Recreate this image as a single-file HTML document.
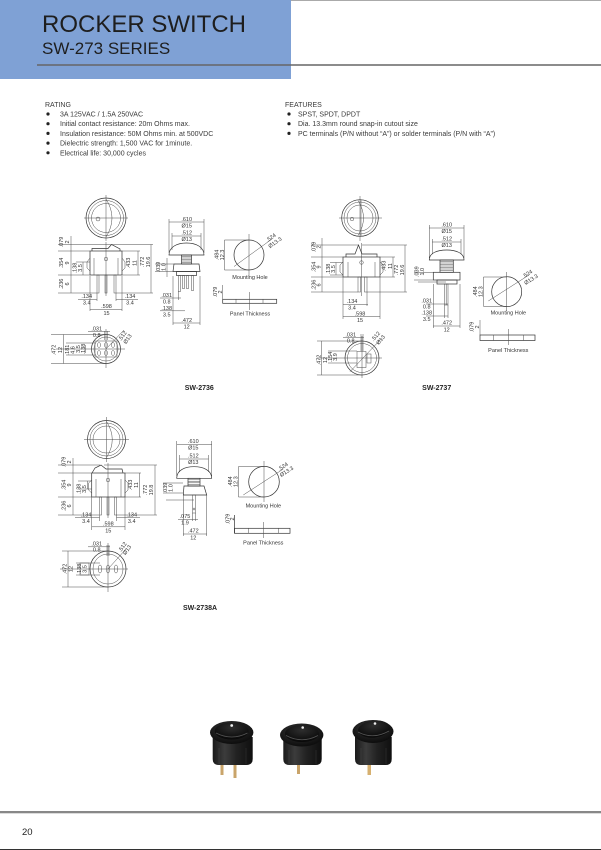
<!DOCTYPE html>
<html><head><meta charset="utf-8">
<style>
html,body{margin:0;padding:0;background:#fff;}
body{width:601px;height:850px;position:relative;overflow:hidden;font-family:"Liberation Sans",Arial,sans-serif;}
svg{position:absolute;left:0;top:0;}
.d{fill:none;stroke:#4a4a4a;stroke-width:0.5}
.k{fill:none;stroke:#333;stroke-width:0.7}
.t{font-family:"Liberation Sans",Arial,sans-serif;font-size:5.5px;fill:#333;text-anchor:middle}
.s{font-family:"Liberation Sans",Arial,sans-serif;font-size:7px;fill:#3a3a3a}
.b{font-family:"Liberation Sans",Arial,sans-serif;font-size:7px;font-weight:bold;fill:#222;text-anchor:middle}
</style></head><body>
<svg width="601" height="850" viewBox="0 0 601 850" xmlns="http://www.w3.org/2000/svg">
<defs>
<linearGradient id="bg" x1="0" y1="0" x2="1" y2="0">
<stop offset="0" stop-color="#1a1a1a"/><stop offset="0.3" stop-color="#3c3c3c"/><stop offset="0.6" stop-color="#222"/><stop offset="1" stop-color="#0f0f0f"/>
</linearGradient>
<radialGradient id="cg" cx="0.45" cy="0.35" r="0.7">
<stop offset="0" stop-color="#3a3a3a"/><stop offset="0.6" stop-color="#1b1b1b"/><stop offset="1" stop-color="#0a0a0a"/>
</radialGradient>
<radialGradient id="rg" cx="0.5" cy="0.3" r="0.7">
<stop offset="0" stop-color="#2e2e2e"/><stop offset="1" stop-color="#080808"/>
</radialGradient>
</defs>

<!-- HEADER -->
<rect x="0" y="0" width="291" height="79" fill="#7fa1d5"/>
<line x1="291" y1="0.5" x2="601" y2="0.5" stroke="#aaa" stroke-width="1"/>
<line x1="37" y1="65" x2="601" y2="65" stroke="#666" stroke-width="1.6"/>
<text x="42" y="32" font-size="24" fill="#1e1e1e" font-family="Liberation Sans, Arial, sans-serif">ROCKER SWITCH</text>
<text x="42" y="54" font-size="17" fill="#1e1e1e" font-family="Liberation Sans, Arial, sans-serif">SW-273 SERIES</text>

<!-- RATING / FEATURES -->
<text class="s" x="45" y="107">RATING</text>
<g fill="#222">
<circle cx="48" cy="114" r="1.6"/><circle cx="48" cy="123.7" r="1.6"/><circle cx="48" cy="133.4" r="1.6"/><circle cx="48" cy="143.1" r="1.6"/><circle cx="48" cy="152.8" r="1.6"/>
<circle cx="289" cy="114" r="1.6"/><circle cx="289" cy="123.7" r="1.6"/><circle cx="289" cy="133.4" r="1.6"/>
</g>
<text class="s" x="60" y="116.5">3A 125VAC / 1.5A 250VAC</text>
<text class="s" x="60" y="126.2">Initial contact resistance: 20m Ohms max.</text>
<text class="s" x="60" y="135.9">Insulation resistance: 50M Ohms min. at 500VDC</text>
<text class="s" x="60" y="145.6">Dielectric strength: 1,500 VAC for 1minute.</text>
<text class="s" x="60" y="155.3">Electrical life: 30,000 cycles</text>
<text class="s" x="285" y="107">FEATURES</text>
<text class="s" x="298" y="116.5">SPST, SPDT, DPDT</text>
<text class="s" x="298" y="126.2">Dia. 13.3mm round snap-in cutout size</text>
<text class="s" x="298" y="135.9">PC terminals (P/N without “A”) or solder terminals (P/N with “A”)</text>

<!-- ===================== SW-2736 ===================== -->
<g class="d">
<!-- top view -->
<circle cx="106" cy="218" r="20" class="k"/>
<circle cx="106" cy="218" r="17.5"/>
<circle cx="106" cy="218" r="14.5"/>
<path d="M106,199 Q118,218 106,237"/>
<circle cx="98" cy="219" r="2"/>
<line x1="84" y1="218" x2="128" y2="218"/>
<line x1="106" y1="195" x2="106" y2="241"/>
<!-- side view -->
<path class="k" d="M92,251 L92,248.5 L108,248.5 L111.5,244.5 L120,249 L120,251"/>
<rect class="k" x="90" y="251" width="32" height="24"/>
<path d="M90,258 L87,262 L87,268 L90,271"/>
<path d="M122,258 L125,262 L125,268 L122,271"/>
<line x1="94" y1="258" x2="94" y2="275"/>
<line x1="118" y1="258" x2="118" y2="275"/>
<circle cx="106" cy="259" r="1.8"/>
<line x1="106" y1="242" x2="106" y2="296"/>
<rect x="97" y="275" width="2" height="18"/>
<rect x="105" y="275" width="2" height="18"/>
<rect x="114" y="275" width="2" height="18"/>
<line x1="58" y1="244.5" x2="111" y2="244.5"/>
<line x1="58" y1="251" x2="90" y2="251"/>
<line x1="58" y1="275" x2="90" y2="275"/>
<line x1="58" y1="293" x2="97" y2="293"/>
<line x1="71" y1="236" x2="71" y2="293"/>
<line x1="76" y1="262" x2="90" y2="262"/>
<line x1="83" y1="262" x2="83" y2="275"/>
<line x1="122" y1="251" x2="140" y2="251"/>
<line x1="122" y1="275" x2="140" y2="275"/>
<line x1="138" y1="251" x2="138" y2="275"/>
<line x1="112" y1="244.5" x2="153" y2="244.5"/>
<line x1="116" y1="293" x2="153" y2="293"/>
<line x1="151" y1="244.5" x2="151" y2="293"/>
<line x1="90" y1="276" x2="90" y2="311"/>
<line x1="122" y1="276" x2="122" y2="311"/>
<line x1="97" y1="293" x2="97" y2="301"/>
<line x1="116" y1="293" x2="116" y2="301"/>
<line x1="78" y1="299.3" x2="97" y2="299.3"/>
<line x1="116" y1="299.3" x2="138" y2="299.3"/>
<line x1="90" y1="309.5" x2="122" y2="309.5"/>
<!-- front view -->
<line x1="169" y1="222" x2="204" y2="222"/>
<line x1="169" y1="219" x2="169" y2="253"/>
<line x1="204" y1="219" x2="204" y2="253"/>
<line x1="172" y1="236" x2="201" y2="236"/>
<line x1="172" y1="233" x2="172" y2="250"/>
<line x1="201" y1="233" x2="201" y2="250"/>
<path class="k" d="M169,255 C169,247 177,243 186.5,243 C196,243 204,247 204,255 Z"/>
<rect class="k" x="181.5" y="255" width="10" height="9"/>
<path d="M181.5,256.5 H191.5 M181.5,258 H191.5 M181.5,259.5 H191.5 M181.5,261 H191.5 M181.5,262.5 H191.5"/>
<path class="k" d="M174,264 L199,264 L200,271.5 L173,271.5 Z"/>
<rect class="k" x="176.5" y="271.5" width="20" height="4"/>
<rect x="178.5" y="275.5" width="2" height="16"/>
<rect x="182.5" y="275.5" width="2" height="13"/>
<rect x="186.5" y="275.5" width="2" height="13"/>
<rect x="191.5" y="275.5" width="2" height="15"/>
<line x1="155" y1="264" x2="174" y2="264"/>
<line x1="155" y1="271.5" x2="173" y2="271.5"/>
<line x1="167" y1="258" x2="167" y2="277"/>
<line x1="160" y1="298" x2="181" y2="298"/>
<line x1="178.5" y1="291" x2="178.5" y2="300"/>
<line x1="160" y1="310.8" x2="185" y2="310.8"/>
<line x1="173" y1="276" x2="173" y2="325"/>
<line x1="200" y1="276" x2="200" y2="325"/>
<line x1="173" y1="323" x2="200" y2="323"/>
<!-- mounting hole -->
<circle class="k" cx="249" cy="255" r="15"/>
<line x1="224.5" y1="240" x2="249" y2="240"/>
<line x1="224.5" y1="270" x2="249" y2="270"/>
<line x1="224.5" y1="240" x2="224.5" y2="270"/>
<line x1="249" y1="234" x2="249" y2="276"/>
<line x1="234" y1="266.5" x2="272" y2="239"/>
<!-- panel -->
<rect class="k" x="222.7" y="299.3" width="54" height="4"/>
<line x1="236" y1="299.3" x2="236" y2="303.3"/>
<line x1="263" y1="299.3" x2="263" y2="303.3"/>
<line x1="249.5" y1="292" x2="249.5" y2="310"/>
<line x1="222.7" y1="285" x2="222.7" y2="299.3"/>
<!-- bottom view -->
<circle class="k" cx="106" cy="349" r="14.5"/>
<circle cx="106" cy="349" r="12"/>
<rect x="95" y="341" width="22" height="16"/>
<ellipse cx="99" cy="345" rx="1.5" ry="2.5"/><ellipse cx="106" cy="345" rx="1.5" ry="2.5"/><ellipse cx="113" cy="345" rx="1.5" ry="2.5"/>
<ellipse cx="99" cy="353" rx="1.5" ry="2.5"/><ellipse cx="106" cy="353" rx="1.5" ry="2.5"/><ellipse cx="113" cy="353" rx="1.5" ry="2.5"/>
<line x1="56" y1="349" x2="125" y2="349"/>
<line x1="106" y1="329" x2="106" y2="368"/>
<line x1="51" y1="334.5" x2="106" y2="334.5"/>
<line x1="51" y1="363.5" x2="106" y2="363.5"/>
<line x1="63.5" y1="334.5" x2="63.5" y2="363.5"/>
<line x1="66" y1="343" x2="95" y2="343"/>
<line x1="66" y1="355" x2="95" y2="355"/>
<line x1="85.5" y1="345" x2="85.5" y2="353"/>
<line x1="88" y1="331.5" x2="110" y2="331.5"/>
<line x1="104.8" y1="331" x2="104.8" y2="340"/>
<line x1="107.2" y1="331" x2="107.2" y2="340"/>
<line x1="106" y1="349" x2="124" y2="330"/>
</g>
<g class="t">
<text transform="translate(63,242) rotate(-90)">.079</text>
<text transform="translate(69,242) rotate(-90)">2</text>
<text transform="translate(63,263) rotate(-90)">.354</text>
<text transform="translate(69,263) rotate(-90)">9</text>
<text transform="translate(63,284) rotate(-90)">.236</text>
<text transform="translate(69,284) rotate(-90)">6</text>
<text transform="translate(76.5,268) rotate(-90)">.138</text>
<text transform="translate(82,268) rotate(-90)">3.5</text>
<text transform="translate(130,263) rotate(-90)">.433</text>
<text transform="translate(136.5,263) rotate(-90)">11</text>
<text transform="translate(144,262) rotate(-90)">.772</text>
<text transform="translate(150,262) rotate(-90)">19.6</text>
<text x="86.7" y="298">.134</text><text x="86.7" y="304.5">3.4</text>
<text x="130" y="298">.134</text><text x="130" y="304.5">3.4</text>
<text x="106.5" y="307.8">.598</text><text x="106.5" y="314.8">15</text>
<text x="186.7" y="221">.610</text><text x="186.7" y="227.5">Ø15</text>
<text x="186.7" y="234.7">.512</text><text x="186.7" y="241">Ø13</text>
<text transform="translate(160,267) rotate(-90)">.039</text>
<text transform="translate(165.5,267) rotate(-90)">1.0</text>
<text x="166.7" y="297">.031</text><text x="166.7" y="303.3">0.8</text>
<text x="166.7" y="310">.138</text><text x="166.7" y="316.5">3.5</text>
<text x="186.7" y="322">.472</text><text x="186.7" y="328.5">12</text>
<text transform="translate(218.5,255) rotate(-90)">.484</text>
<text transform="translate(224,255) rotate(-90)">12.3</text>
<text transform="translate(272,239) rotate(-35)">.524</text>
<text transform="translate(276,244) rotate(-35)">Ø13.3</text>
<text x="250" y="278.8">Mounting Hole</text>
<text transform="translate(217,292) rotate(-90)">.079</text>
<text transform="translate(222,292) rotate(-90)">2</text>
<text x="250" y="315.3">Panel Thickness</text>
<text x="96.7" y="330.3">.031</text><text x="96.7" y="336.8">0.8</text>
<text transform="translate(124,337) rotate(-55)">.512</text>
<text transform="translate(129,340) rotate(-55)">Ø13</text>
<text transform="translate(55.5,350) rotate(-90)">.472</text>
<text transform="translate(62,350) rotate(-90)">12</text>
<text transform="translate(69,350) rotate(-90)">.181</text>
<text transform="translate(74.3,350) rotate(-90)">4.6</text>
<text transform="translate(80,349) rotate(-90)">3.5</text>
<text transform="translate(85,349) rotate(-90)">.138</text>
</g>
<text class="b" x="199.3" y="390.2">SW-2736</text>

<!-- ===================== SW-2737 ===================== -->
<g class="d">
<circle class="k" cx="360" cy="218" r="18.3"/>
<circle cx="360" cy="218" r="16"/>
<circle cx="360" cy="218" r="13"/>
<path d="M358,200.5 Q369,218 358,235.5"/>
<line x1="361" y1="200" x2="361" y2="236"/>
<circle cx="352" cy="219" r="1.8"/>
<line x1="339" y1="218" x2="382" y2="218"/>
<line x1="360" y1="196" x2="360" y2="241"/>
<!-- side -->
<path class="k" d="M346,257 L346,254 L355,254 L358.5,245 L362,254 L377,254 L377,257"/>
<rect class="k" x="343" y="257" width="37" height="20"/>
<path d="M343,262 L340,265 L340,272 L343,275"/>
<path d="M380,262 L383,265 L383,272 L380,275"/>
<line x1="348" y1="262" x2="348" y2="277"/>
<line x1="375" y1="262" x2="375" y2="277"/>
<circle cx="361.5" cy="262.5" r="1.8"/>
<line x1="361.5" y1="243" x2="361.5" y2="296"/>
<rect x="358" y="277" width="2.5" height="15"/>
<rect x="364.5" y="277" width="2.5" height="15"/>
<line x1="311" y1="245" x2="358" y2="245"/>
<line x1="311" y1="257" x2="343" y2="257"/>
<line x1="311" y1="277" x2="343" y2="277"/>
<line x1="311" y1="292" x2="358" y2="292"/>
<line x1="322" y1="238" x2="322" y2="292"/>
<line x1="330" y1="262.5" x2="343" y2="262.5"/>
<line x1="330" y1="275" x2="343" y2="275"/>
<line x1="336" y1="262.5" x2="336" y2="275"/>
<line x1="380" y1="257" x2="395" y2="257"/>
<line x1="380" y1="277" x2="395" y2="277"/>
<line x1="393" y1="257" x2="393" y2="277"/>
<line x1="362" y1="245" x2="407" y2="245"/>
<line x1="367" y1="292" x2="407" y2="292"/>
<line x1="405" y1="245" x2="405" y2="292"/>
<line x1="343" y1="277" x2="343" y2="319"/>
<line x1="380" y1="277" x2="380" y2="319"/>
<line x1="367" y1="292" x2="367" y2="306"/>
<line x1="343" y1="304.4" x2="368" y2="304.4"/>
<line x1="343" y1="316.7" x2="380" y2="316.7"/>
<!-- front -->
<line x1="429.3" y1="228" x2="464" y2="228"/>
<line x1="429.3" y1="225" x2="429.3" y2="258"/>
<line x1="464" y1="225" x2="464" y2="258"/>
<line x1="432.3" y1="242" x2="461" y2="242"/>
<line x1="432.3" y1="239" x2="432.3" y2="254"/>
<line x1="461" y1="239" x2="461" y2="254"/>
<path class="k" d="M429.3,260 C429.3,253 437,250 446.7,250 C456,250 464,253 464,260 Z"/>
<rect class="k" x="440" y="260" width="13.3" height="12.3"/>
<path d="M440,261.5 H453.3 M440,263 H453.3 M440,264.5 H453.3 M440,266 H453.3 M440,267.5 H453.3 M440,269 H453.3 M440,270.5 H453.3"/>
<rect class="k" x="433.3" y="272.3" width="26.7" height="7.7"/>
<rect class="k" x="437" y="280" width="20" height="4"/>
<rect x="444.5" y="284" width="3.5" height="21"/>
<line x1="446.2" y1="284" x2="446.2" y2="305"/>
<line x1="414" y1="272.3" x2="433.3" y2="272.3"/>
<line x1="414" y1="280" x2="433.3" y2="280"/>
<line x1="418" y1="282" x2="446" y2="282"/>
<line x1="426" y1="304" x2="448" y2="304"/>
<line x1="426" y1="316" x2="448" y2="316"/>
<line x1="444.5" y1="305" x2="444.5" y2="318"/>
<line x1="448" y1="305" x2="448" y2="318"/>
<line x1="433.3" y1="284" x2="433.3" y2="328"/>
<line x1="460" y1="284" x2="460" y2="328"/>
<line x1="433.3" y1="326" x2="460" y2="326"/>
<!-- mounting hole -->
<circle class="k" cx="506.7" cy="291.7" r="15"/>
<line x1="483.5" y1="277" x2="506.7" y2="277"/>
<line x1="483.5" y1="306.4" x2="506.7" y2="306.4"/>
<line x1="483.5" y1="277" x2="483.5" y2="306.4"/>
<line x1="506.7" y1="272" x2="506.7" y2="311"/>
<line x1="488.3" y1="301" x2="529" y2="275"/>
<!-- panel -->
<rect class="k" x="480" y="335" width="55" height="5.5"/>
<line x1="493.3" y1="335" x2="493.3" y2="340.5"/>
<line x1="523.3" y1="335" x2="523.3" y2="340.5"/>
<line x1="508.3" y1="329" x2="508.3" y2="345"/>
<line x1="480" y1="320" x2="480" y2="335"/>
<!-- bottom view -->
<circle class="k" cx="362" cy="358" r="17"/>
<circle cx="362" cy="358" r="14.5"/>
<rect x="357" y="351.5" width="9" height="16"/>
<rect x="367" y="354" width="4" height="9"/>
<line x1="318" y1="358" x2="382" y2="358"/>
<line x1="362" y1="336" x2="362" y2="378"/>
<line x1="317" y1="341" x2="362" y2="341"/>
<line x1="317" y1="375" x2="362" y2="375"/>
<line x1="321.7" y1="341" x2="321.7" y2="375"/>
<line x1="328" y1="351" x2="357" y2="351"/>
<line x1="328" y1="363" x2="357" y2="363"/>
<line x1="343" y1="337.5" x2="364" y2="337.5"/>
<line x1="361" y1="334" x2="361" y2="351"/>
<line x1="363" y1="334" x2="363" y2="351"/>
<line x1="350" y1="371.7" x2="381.7" y2="338.3"/>
</g>
<g class="t">
<text transform="translate(315.3,247) rotate(-90)">.079</text>
<text transform="translate(320.5,247) rotate(-90)">2</text>
<text transform="translate(315.3,267) rotate(-90)">.354</text>
<text transform="translate(320.5,267) rotate(-90)">9</text>
<text transform="translate(315.3,285) rotate(-90)">.236</text>
<text transform="translate(320.5,285) rotate(-90)">6</text>
<text transform="translate(330,269) rotate(-90)">.138</text>
<text transform="translate(335,269) rotate(-90)">3.5</text>
<text transform="translate(385.3,266) rotate(-90)">.433</text>
<text transform="translate(392,266) rotate(-90)">11</text>
<text transform="translate(398,270) rotate(-90)">.772</text>
<text transform="translate(404,270) rotate(-90)">19.6</text>
<text x="352" y="303">.134</text><text x="352" y="309.7">3.4</text>
<text x="360" y="315.3">.598</text><text x="360" y="322">15</text>
<text x="446.7" y="226.3">.610</text><text x="446.7" y="233">Ø15</text>
<text x="446.7" y="240.3">.512</text><text x="446.7" y="247">Ø13</text>
<text transform="translate(418.7,271.7) rotate(-90)">.039</text>
<text transform="translate(424,271.7) rotate(-90)">1.0</text>
<text x="426.7" y="302.7">.031</text><text x="426.7" y="308.7">0.8</text>
<text x="426.7" y="314.7">.138</text><text x="426.7" y="321">3.5</text>
<text x="446.7" y="324.7">.472</text><text x="446.7" y="331.3">12</text>
<text transform="translate(477,291.7) rotate(-90)">.484</text>
<text transform="translate(482.5,291.7) rotate(-90)">12.3</text>
<text transform="translate(528.3,275.5) rotate(-32)">.524</text>
<text transform="translate(532,281) rotate(-32)">Ø13.3</text>
<text x="508.3" y="314.3">Mounting Hole</text>
<text transform="translate(473.7,327) rotate(-90)">.079</text>
<text transform="translate(479,327) rotate(-90)">2</text>
<text x="508.3" y="352">Panel Thickness</text>
<text x="350.7" y="336.3">.031</text><text x="350.7" y="342.7">0.8</text>
<text transform="translate(377,337.5) rotate(-50)">.512</text>
<text transform="translate(382,341) rotate(-50)">Ø13</text>
<text transform="translate(320.3,360) rotate(-90)">.472</text>
<text transform="translate(327,360) rotate(-90)">12</text>
<text transform="translate(332,357) rotate(-90)">.154</text>
<text transform="translate(337,357) rotate(-90)">3.9</text>
</g>
<text class="b" x="436.7" y="390.2">SW-2737</text>

<!-- ===================== SW-2738A ===================== -->
<g class="d">
<circle class="k" cx="106.5" cy="439.5" r="19"/>
<circle cx="106.5" cy="439.5" r="16.5"/>
<circle cx="106.5" cy="439.5" r="13.5"/>
<path d="M106.5,421.5 Q118,439.5 106.5,457.5"/>
<line x1="84" y1="439.5" x2="129" y2="439.5"/>
<line x1="106.5" y1="417" x2="106.5" y2="462"/>
<!-- side -->
<path class="k" d="M92,473 L95,468 L101,465 L106,469 L122,469 L123,473"/>
<rect class="k" x="91.7" y="473" width="33.3" height="24"/>
<path d="M91.7,480 L88.7,483 L88.7,490 L91.7,493"/>
<path d="M125,480 L128,483 L128,490 L125,493"/>
<line x1="96" y1="479" x2="96" y2="497"/>
<line x1="121" y1="479" x2="121" y2="497"/>
<circle cx="108" cy="480" r="1.8"/>
<line x1="108" y1="463" x2="108" y2="518"/>
<rect x="99.5" y="497" width="2" height="18"/>
<rect x="107" y="497" width="2" height="18"/>
<rect x="114.5" y="497" width="2" height="18"/>
<line x1="58" y1="465" x2="100" y2="465"/>
<line x1="58" y1="473" x2="92" y2="473"/>
<line x1="58" y1="497" x2="92" y2="497"/>
<line x1="58" y1="515" x2="99" y2="515"/>
<line x1="73" y1="458" x2="73" y2="515"/>
<line x1="78" y1="481" x2="92" y2="481"/>
<line x1="78" y1="489" x2="92" y2="489"/>
<line x1="87.5" y1="481" x2="87.5" y2="489"/>
<line x1="125" y1="473" x2="141" y2="473"/>
<line x1="125" y1="497" x2="141" y2="497"/>
<line x1="139.5" y1="473" x2="139.5" y2="497"/>
<line x1="104" y1="465" x2="157" y2="465"/>
<line x1="116" y1="515" x2="157" y2="515"/>
<line x1="155" y1="465" x2="155" y2="515"/>
<line x1="91.7" y1="497" x2="91.7" y2="530"/>
<line x1="125" y1="497" x2="125" y2="530"/>
<line x1="99.5" y1="515" x2="99.5" y2="521"/>
<line x1="116.5" y1="515" x2="116.5" y2="521"/>
<line x1="75" y1="517.5" x2="99.5" y2="517.5"/>
<line x1="116.5" y1="517.5" x2="140" y2="517.5"/>
<line x1="91.7" y1="526.8" x2="125" y2="526.8"/>
<!-- front -->
<line x1="176.7" y1="444.5" x2="211.7" y2="444.5"/>
<line x1="176.7" y1="441" x2="176.7" y2="476"/>
<line x1="211.7" y1="441" x2="211.7" y2="476"/>
<line x1="179.5" y1="459" x2="208.5" y2="459"/>
<line x1="179.5" y1="455" x2="179.5" y2="472"/>
<line x1="208.5" y1="455" x2="208.5" y2="472"/>
<path class="k" d="M176.7,478.3 C176.7,470 185,466.7 194,466.7 C203,466.7 211.7,470 211.7,478.3 Z"/>
<rect class="k" x="188" y="478.3" width="12" height="7.7"/>
<path d="M188,479.8 H200 M188,481.3 H200 M188,482.8 H200 M188,484.3 H200"/>
<path class="k" d="M184,486 L204,486 L206.7,495 L183.3,495 Z"/>
<rect x="192.5" y="495" width="3" height="18"/>
<circle cx="194" cy="509" r="1"/>
<line x1="163" y1="483" x2="183" y2="483"/>
<line x1="163" y1="493" x2="183" y2="493"/>
<line x1="166" y1="500" x2="194" y2="500"/>
<line x1="178" y1="519.5" x2="198" y2="519.5"/>
<line x1="192.5" y1="513" x2="192.5" y2="521"/>
<line x1="195.5" y1="513" x2="195.5" y2="521"/>
<line x1="183.3" y1="495" x2="183.3" y2="536"/>
<line x1="206.7" y1="495" x2="206.7" y2="536"/>
<line x1="183.3" y1="534" x2="206.7" y2="534"/>
<!-- mounting hole -->
<circle class="k" cx="264" cy="481.7" r="15.3"/>
<line x1="238.5" y1="466.5" x2="264" y2="466.5"/>
<line x1="238.5" y1="497" x2="264" y2="497"/>
<line x1="238.5" y1="466.5" x2="238.5" y2="497"/>
<line x1="264" y1="461" x2="264" y2="502"/>
<line x1="243.3" y1="495" x2="283.3" y2="469"/>
<!-- panel -->
<line class="k" x1="234.5" y1="515" x2="234.5" y2="533.3"/>
<rect class="k" x="234.5" y="528.3" width="55.5" height="5"/>
<line x1="248.3" y1="528.3" x2="248.3" y2="533.3"/>
<line x1="278.3" y1="528.3" x2="278.3" y2="533.3"/>
<line x1="263.3" y1="522" x2="263.3" y2="538"/>
<!-- bottom view -->
<circle class="k" cx="108" cy="569" r="18"/>
<circle cx="108" cy="569" r="15"/>
<ellipse cx="100" cy="569" rx="1.8" ry="4"/>
<ellipse cx="108" cy="569" rx="1.8" ry="4"/>
<ellipse cx="116" cy="569" rx="1.8" ry="4"/>
<line x1="60" y1="569" x2="128" y2="569"/>
<line x1="108" y1="543" x2="108" y2="592"/>
<line x1="62" y1="551" x2="108" y2="551"/>
<line x1="62" y1="587" x2="108" y2="587"/>
<line x1="68" y1="551" x2="68" y2="587"/>
<line x1="76" y1="563" x2="100" y2="563"/>
<line x1="76" y1="575" x2="100" y2="575"/>
<rect x="80" y="563" width="9" height="12"/>
<line x1="88" y1="546.8" x2="110" y2="546.8"/>
<line x1="107" y1="545" x2="107" y2="556"/>
<line x1="109" y1="545" x2="109" y2="556"/>
<line x1="108" y1="569" x2="126" y2="549"/>
</g>
<g class="t">
<text transform="translate(65.3,462) rotate(-90)">.079</text>
<text transform="translate(71,462) rotate(-90)">2</text>
<text transform="translate(65.3,485) rotate(-90)">.354</text>
<text transform="translate(71,485) rotate(-90)">9</text>
<text transform="translate(65.3,506) rotate(-90)">.236</text>
<text transform="translate(71,506) rotate(-90)">6</text>
<text transform="translate(80.3,489) rotate(-90)">.138</text>
<text transform="translate(86,489) rotate(-90)">3.5</text>
<text transform="translate(132,485) rotate(-90)">.433</text>
<text transform="translate(138,485) rotate(-90)">11</text>
<text transform="translate(147,490) rotate(-90)">.772</text>
<text transform="translate(153,490) rotate(-90)">19.8</text>
<text x="86" y="516.3">.134</text><text x="86" y="523">3.4</text>
<text x="131.7" y="516.3">.134</text><text x="131.7" y="523">3.4</text>
<text x="108.3" y="525.3">.598</text><text x="108.3" y="532.3">15</text>
<text x="193.3" y="443">.610</text><text x="193.3" y="449.5">Ø15</text>
<text x="193.3" y="457.7">.512</text><text x="193.3" y="464.2">Ø13</text>
<text transform="translate(167,488) rotate(-90)">.039</text>
<text transform="translate(172.5,488) rotate(-90)">1.0</text>
<text x="185" y="518">.075</text><text x="185" y="524.5">1.9</text>
<text x="193.3" y="532.7">.472</text><text x="193.3" y="539.3">12</text>
<text transform="translate(232,481.7) rotate(-90)">.484</text>
<text transform="translate(237.5,481.7) rotate(-90)">12.3</text>
<text transform="translate(284,468) rotate(-33)">.524</text>
<text transform="translate(287.5,473) rotate(-33)">Ø13.3</text>
<text x="263.3" y="507.7">Mounting Hole</text>
<text transform="translate(229.5,519) rotate(-90)">.079</text>
<text transform="translate(234,519) rotate(-90)">2</text>
<text x="263.3" y="544.7">Panel Thickness</text>
<text x="96.7" y="545.3">.031</text><text x="96.7" y="551.5">0.8</text>
<text transform="translate(124,548) rotate(-55)">.512</text>
<text transform="translate(128.5,551) rotate(-55)">Ø13</text>
<text transform="translate(66.5,569) rotate(-90)">.472</text>
<text transform="translate(72.5,569) rotate(-90)">12</text>
<text transform="translate(81,569) rotate(-90)">.138</text>
<text transform="translate(86.5,569) rotate(-90)">3.5</text>
</g>
<text class="b" x="200" y="610.2">SW-2738A</text>

<!-- ===================== PHOTOS ===================== -->
<!-- switch 1 -->
<rect x="220.5" y="760" width="3" height="15" fill="#c9a46a"/>
<rect x="233.5" y="760" width="3" height="18" fill="#c9a46a"/>
<path d="M212.7,737 L212.7,759 Q212.7,765 219,765 L246,765 Q252.7,765 252.7,759 L252.7,737 Z" fill="url(#bg)"/>
<line x1="219" y1="748" x2="219" y2="764" stroke="#444" stroke-width="0.6"/>
<line x1="246" y1="748" x2="246" y2="764" stroke="#333" stroke-width="0.6"/>
<ellipse cx="231.7" cy="732.5" rx="21.7" ry="11.5" fill="url(#cg)"/>
<ellipse cx="231.7" cy="731" rx="17" ry="8.5" fill="url(#rg)"/>
<path d="M216,733 Q231.7,741 247.5,733" fill="none" stroke="#555" stroke-width="0.8"/>
<circle cx="231.7" cy="725.5" r="1.4" fill="#eee"/>
<!-- switch 2 -->
<rect x="297" y="762" width="3" height="12" fill="#c9a46a"/>
<path d="M283.3,739 L283.3,759 Q283.3,765 289.5,765 L315.5,765 Q321.7,765 321.7,759 L321.7,739 Z" fill="url(#bg)"/>
<line x1="289" y1="750" x2="289" y2="764" stroke="#444" stroke-width="0.6"/>
<line x1="316" y1="750" x2="316" y2="764" stroke="#333" stroke-width="0.6"/>
<ellipse cx="301.7" cy="735" rx="21.7" ry="11.5" fill="url(#cg)"/>
<ellipse cx="302" cy="733.5" rx="17" ry="8.5" fill="url(#rg)"/>
<path d="M286,735.5 Q302,744 318,735.5" fill="none" stroke="#555" stroke-width="0.8"/>
<circle cx="302.7" cy="727.5" r="1.3" fill="#eee"/>
<!-- switch 3 -->
<rect x="367.5" y="762" width="3.5" height="13" fill="#d6b070"/>
<path d="M355,737 L355,759 Q355,765 361,765 L385.7,765 Q391.7,765 391.7,759 L391.7,737 Z" fill="url(#bg)"/>
<line x1="361" y1="748" x2="361" y2="764" stroke="#444" stroke-width="0.6"/>
<line x1="386" y1="748" x2="386" y2="764" stroke="#333" stroke-width="0.6"/>
<ellipse cx="373" cy="731.5" rx="20.5" ry="11.5" fill="url(#cg)"/>
<ellipse cx="374" cy="729" rx="16" ry="8.5" fill="url(#rg)" transform="rotate(-6 374 729)"/>
<path d="M358,732 Q373,740 389,731" fill="none" stroke="#555" stroke-width="0.8"/>
<circle cx="375" cy="723.5" r="1.3" fill="#eee"/>

<!-- FOOTER -->
<rect x="0" y="811" width="601" height="2.3" fill="#888"/>
<text x="22" y="835" font-size="9.5" fill="#222" font-family="Liberation Sans, Arial, sans-serif">20</text>
<rect x="0" y="849" width="601" height="1" fill="#333"/>
</svg>
</body></html>
